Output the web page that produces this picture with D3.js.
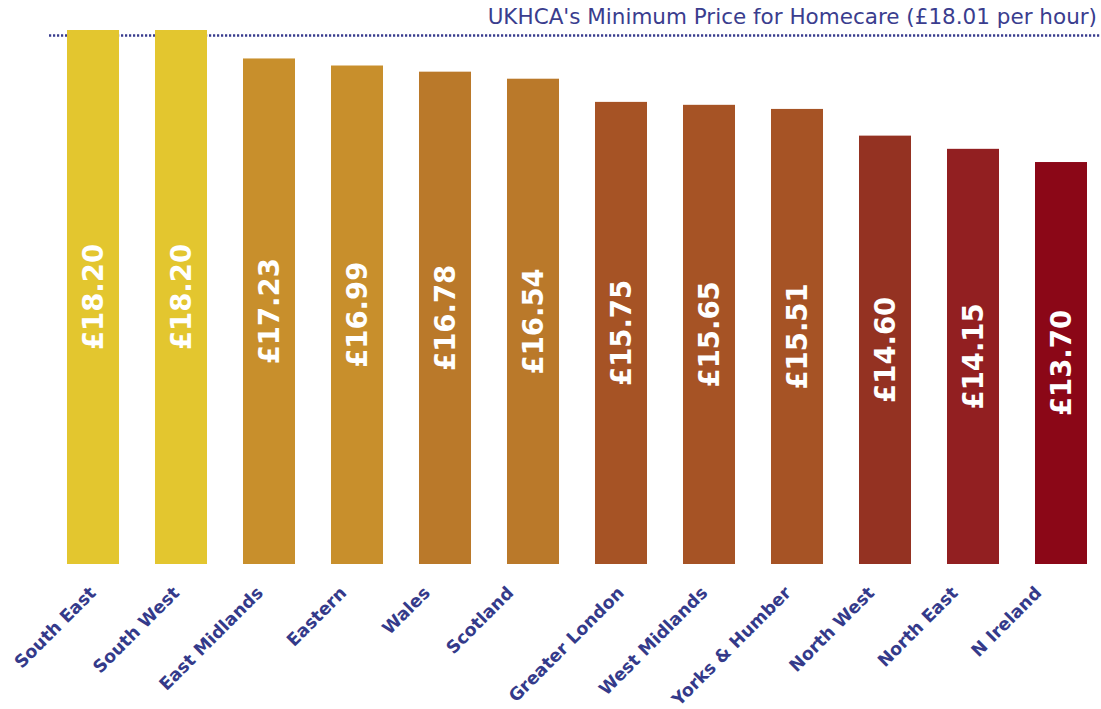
<!doctype html>
<html>
  <head>
    <script src="https://cdnjs.cloudflare.com/ajax/libs/d3/7.8.5/d3.min.js"></script>
    <style>
      body {
          margin: 0;
          font-family: "DejaVu Sans", Verdana, sans-serif;
          background: #fff;
      }
      .amount {
          fill: #fff;
          font-weight: bold;
          text-anchor: middle;
      }
      .x.axis .domain, .x.axis line {
          display: none;
      }
      .x.axis text {
          fill: #343a8a;
          font-family: "DejaVu Sans", Verdana, sans-serif;
          font-weight: bold;
      }
      .target-label {
          fill: #3a3d8e;
          text-anchor: end;
      }
    </style>
  </head>
  <body>

    <script type="text/javascript">
        var regions = ["South East", "South West", "East Midlands", "Eastern", "Wales", "Scotland",
                       "Greater London", "West Midlands", "Yorks & Humber", "North West", "North East", "N Ireland"];
        var prices = [18.20, 18.20, 17.23, 16.99, 16.78, 16.54, 15.75, 15.65, 15.51, 14.60, 14.15, 13.70];
        var barColors = ["#e3c62f", "#e3c62f", "#c88f2c", "#c88f2c", "#ba792a", "#ba792a",
                         "#a65325", "#a65325", "#a65325", "#943222", "#921f21", "#8b0717"];
        var minPrice = 18.01;
        var minPriceLabel = "UKHCA's Minimum Price for Homecare (£18.01 per hour)";

        var data = regions.map(function(d, i) {
            return {name: d, value: prices[i], color: barColors[i]};
        });

        var width = 1101, height = 709;

        var svg = d3.select("body").append("svg")
            .attr("width", width)
            .attr("height", height);

        var x = d3.scaleBand()
            .range([49, 1105])
            .domain(regions)
            .paddingInner(0.409)
            .paddingOuter(0.2045);

        var y = d3.scaleLinear()
            .range([564, 30])
            .domain([0, 18.2]);

        // minimum price line sits behind the bars
        svg.append("line")
            .attr("x1", 49)
            .attr("x2", width)
            .attr("y1", y(minPrice))
            .attr("y2", y(minPrice))
            .attr("stroke", "#3a3d8e")
            .attr("stroke-width", 2.5)
            .attr("stroke-dasharray", "2.2,1.8");

        svg.append("text")
            .attr("class", "target-label")
            .attr("x", 1097)
            .attr("y", 24)
            .style("font-size", "21.5px")
            .text(minPriceLabel);

        svg.selectAll(".bar").data(data).enter().append("rect")
            .attr("class", "bar")
            .attr("x", d => x(d.name))
            .attr("y", d => y(d.value))
            .attr("width", x.bandwidth())
            .attr("height", d => y(0) - y(d.value))
            .attr("fill", d => d.color);

        svg.selectAll(".amount").data(data).enter().append("text")
            .attr("class", "amount")
            .attr("transform", d => `translate(${x(d.name) + x.bandwidth() / 2},${(y(d.value) + y(0)) / 2}) rotate(-90)`)
            .attr("dy", "0.36em")
            .style("font-size", "27.5px")
            .text(d => "£" + d3.format(".2f")(d.value));

        var x_axis = d3.axisBottom(x).tickSize(0);

        // labels drift left a little within each group of six, as in the original
        svg.append("g")
            .attr("class", "x axis")
            .attr("transform", `translate(0,${y(0)})`)
            .call(x_axis)
            .selectAll("text")
            .style("font-size", "17.5px")
            .style("text-anchor", "end")
            .attr("y", 0)
            .attr("dy", 0)
            .attr("transform", (d, i) => `translate(${4 - 4.5 * (i % 6)},30) rotate(-45)`);
    </script>
  </body>
</html>
